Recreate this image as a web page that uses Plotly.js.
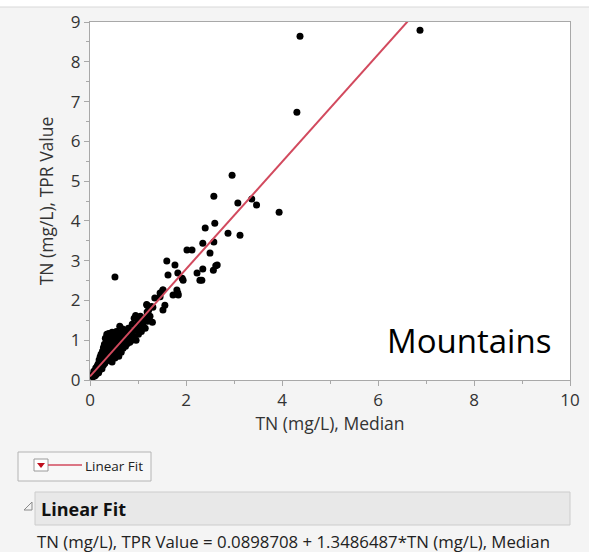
<!DOCTYPE html>
<html>
<head>
<meta charset="utf-8">
<script src="https://cdn.plot.ly/plotly-3.0.1.min.js"></script>
<style>html,body{margin:0;padding:0;background:#fff;}#chart{width:589px;height:552px;}</style>
</head>
<body>
<div id="chart"></div>
<script>
// TN (mg/L), Median
const xMedian = [
  0.05,0.06,0.08,0.08,0.10,0.10,0.12,0.12,0.13,0.14,0.15,0.15,0.16,0.17,0.18,0.18,0.19,0.20,0.20,0.21,
  0.22,0.22,0.23,0.24,0.24,0.25,0.26,0.26,0.27,0.28,0.28,0.29,0.30,0.30,0.31,0.32,0.32,0.33,0.34,0.34,
  0.35,0.35,0.36,0.37,0.38,0.38,0.39,0.40,0.40,0.41,0.42,0.43,0.44,0.45,0.46,0.46,0.47,0.48,0.49,0.50,
  0.50,0.51,0.52,0.53,0.54,0.55,0.56,0.57,0.58,0.59,0.60,0.61,0.62,0.63,0.64,0.65,0.66,0.68,0.69,0.70,
  0.71,0.72,0.74,0.75,0.77,0.78,0.80,0.81,0.83,0.85,0.87,0.88,0.90,0.92,0.93,0.95,0.96,0.97,1.00,1.01,
  1.03,1.05,1.07,1.10,1.12,1.15,1.18,1.20,1.22,1.25,1.28,1.30,
  1.04,1.21,1.19,1.19,1.31,1.35,1.46,1.46,1.52,1.52,1.56,1.52,1.73,1.81,1.83,1.60,1.77,1.625,1.83,1.92,
  2.02,2.125,2.35,2.58,2.875,3.125,2.50,2.65,2.35,2.23,2.29,2.33,2.57,2.62,2.40,2.60,1.94,1.84,
  0.52,2.96,2.58,3.08,3.37,3.47,3.94,4.31,4.375,6.875
];
// TN (mg/L), TPR Value
const yTPR = [
  0.12,0.08,0.15,0.22,0.18,0.10,0.25,0.30,0.14,0.20,0.35,0.28,0.22,0.40,0.30,0.18,0.50,0.36,0.25,0.58,
  0.44,0.30,0.65,0.52,0.36,0.28,0.72,0.45,0.60,0.38,0.82,0.50,0.90,0.66,0.42,0.75,1.05,0.55,0.95,0.48,
  1.15,0.62,0.85,0.52,1.00,0.70,1.17,0.60,0.88,0.78,1.10,0.55,0.95,0.68,1.20,0.45,0.82,1.05,0.62,0.90,
  1.15,0.72,0.55,1.00,0.80,1.22,0.65,0.92,1.10,0.75,0.60,1.00,1.35,0.85,1.18,0.70,0.95,1.28,0.80,1.08,
  0.90,1.20,0.85,1.00,1.15,0.92,1.30,1.05,0.95,1.18,1.00,1.40,1.10,1.55,1.25,1.62,1.00,1.35,1.48,1.15,
  1.30,1.60,1.22,1.40,1.55,1.30,1.90,1.48,1.75,1.60,1.85,1.45,
  1.56,1.56,1.71,1.88,1.83,2.06,2.09,2.19,1.76,2.26,1.88,2.26,2.14,2.26,2.19,2.99,2.89,2.64,2.69,2.56,
  3.27,3.27,3.44,3.47,3.69,3.64,3.19,2.89,2.79,2.69,2.51,2.51,2.76,2.87,3.82,3.94,2.51,2.14,
  2.59,5.15,4.62,4.45,4.55,4.40,4.22,6.73,8.64,8.79
];
// Linear fit coefficients (from the report)
const fitIntercept = 0.0898708;
const fitSlope = 1.3486487;
const fitX = [0, 10];
const fitY = fitX.map(v => fitIntercept + fitSlope * v);

const xTickVals = [0, 2, 4, 6, 8, 10];
const yTickVals = [0, 1, 2, 3, 4, 5, 6, 7, 8, 9];

// pixel -> paper helpers (plot area: x 90..570, y 22..380)
const L = 90, R = 570, T = 22, B = 380;
const px = p => (p - L) / (R - L);
const py = p => (B - p) / (B - T);

const FONT = '"Open Sans", "Noto Sans", sans-serif';

const traces = [
  {
    x: xMedian, y: yTPR, type: 'scatter', mode: 'markers',
    marker: {color: '#000000', size: 7}, showlegend: false, hoverinfo: 'x+y', cliponaxis: true
  },
  {
    x: fitX, y: fitY, type: 'scatter', mode: 'lines',
    line: {color: '#d24a5e', width: 2}, showlegend: false, name: 'Linear Fit'
  }
];

const axisCommon = {
  showgrid: false, zeroline: false, showline: true, mirror: true,
  linecolor: '#a8a8a8', linewidth: 1, ticks: 'outside', ticklen: 5, tickcolor: '#a8a8a8',
  tickfont: {family: FONT, size: 17, color: '#333333'}, fixedrange: true
};

const layout = {
  width: 589, height: 552,
  margin: {l: L, r: 589 - R, t: T, b: 552 - B},
  paper_bgcolor: '#f4f4f4', plot_bgcolor: '#ffffff',
  xaxis: Object.assign({}, axisCommon, {
    range: [0, 10], tickvals: xTickVals, ticktext: xTickVals.map(String),
    minor: {dtick: 1, ticks: 'outside', ticklen: 3, tickcolor: '#a8a8a8'},
    title: {text: 'TN (mg/L), Median', font: {family: FONT, size: 17.5, color: '#333333'}, standoff: 4}
  }),
  yaxis: Object.assign({}, axisCommon, {
    range: [0, 9], tickvals: yTickVals, ticktext: yTickVals.map(String),
    minor: {dtick: 0.5, ticks: 'outside', ticklen: 3, tickcolor: '#a8a8a8'},
    title: {text: 'TN (mg/L), TPR Value', font: {family: FONT, size: 17.5, color: '#333333'}, standoff: 12}
  }),
  shapes: [
    // white strip at top and separator line
    {type: 'rect', xref: 'paper', yref: 'paper', x0: px(0), x1: px(589), y0: py(7), y1: py(0),
     fillcolor: '#ffffff', line: {width: 0}, layer: 'below'},
    {type: 'line', xref: 'paper', yref: 'paper', x0: px(0), x1: px(589), y0: py(7), y1: py(7),
     line: {color: '#d8d8d8', width: 1}},
    // legend box
    {type: 'rect', xref: 'paper', yref: 'paper', x0: px(18), x1: px(151), y0: py(481), y1: py(452),
     fillcolor: '#f7f7f7', line: {color: '#b4b4b4', width: 1}},
    // dropdown icon
    {type: 'rect', xref: 'paper', yref: 'paper', x0: px(34), x1: px(48), y0: py(471), y1: py(459),
     fillcolor: '#ffffff', line: {color: '#9a9a9a', width: 1}},
    {type: 'path', xref: 'paper', yref: 'paper',
     path: 'M ' + px(37) + ' ' + py(463) + ' L ' + px(45) + ' ' + py(463) + ' L ' + px(41) + ' ' + py(468) + ' Z',
     fillcolor: '#c0101e', line: {color: '#c0101e', width: 0}},
    {type: 'line', xref: 'paper', yref: 'paper', x0: px(48), x1: px(82), y0: py(465), y1: py(465),
     line: {color: '#d24a5e', width: 1.5}},
    // Linear Fit header bar
    {type: 'rect', xref: 'paper', yref: 'paper', x0: px(35), x1: px(570), y0: py(525), y1: py(492),
     fillcolor: '#e8e8e8', line: {color: '#cccccc', width: 1}},
    // disclosure triangle
    {type: 'path', xref: 'paper', yref: 'paper',
     path: 'M ' + px(24) + ' ' + py(510) + ' L ' + px(32) + ' ' + py(502) + ' L ' + px(32) + ' ' + py(510) + ' Z',
     fillcolor: 'rgba(0,0,0,0)', line: {color: '#8a8a8a', width: 1}}
  ],
  annotations: [
    {text: 'Mountains', xref: 'paper', yref: 'paper', x: px(553), y: py(340),
     xanchor: 'right', yanchor: 'middle', showarrow: false,
     font: {family: FONT, size: 33, color: '#000000'}},
    {text: 'Linear Fit', xref: 'paper', yref: 'paper', x: px(83), y: py(466),
     xanchor: 'left', yanchor: 'middle', showarrow: false,
     font: {family: FONT, size: 13.5, color: '#222222'}},
    {text: '<b>Linear Fit</b>', xref: 'paper', yref: 'paper', x: px(39), y: py(509),
     xanchor: 'left', yanchor: 'middle', showarrow: false,
     font: {family: FONT, size: 18, color: '#111111'}},
    {text: 'TN (mg/L), TPR Value = 0.0898708 + 1.3486487*TN (mg/L), Median', xref: 'paper', yref: 'paper',
     x: px(35), y: py(541), xanchor: 'left', yanchor: 'middle', showarrow: false,
     font: {family: FONT, size: 16.8, color: '#222222'}}
  ],
  showlegend: false
};

Plotly.newPlot('chart', traces, layout, {displayModeBar: false, staticPlot: true});
</script>
</body>
</html>
